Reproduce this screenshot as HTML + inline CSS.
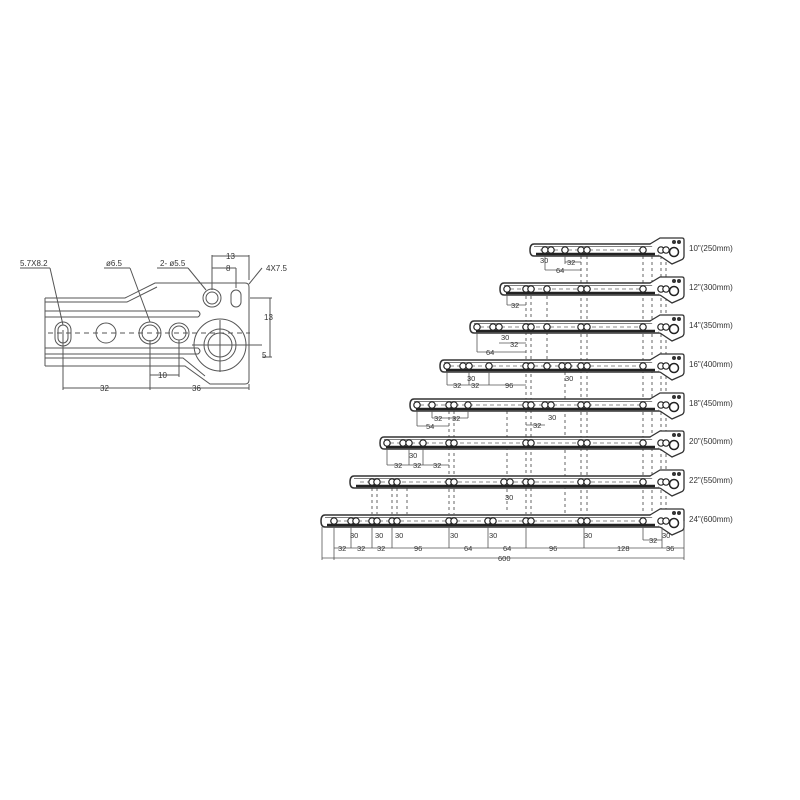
<!DOCTYPE html>
<html><head><meta charset="utf-8"><style>
html,body{margin:0;padding:0;background:#fff;}
svg{display:block;}
text{font-family:"Liberation Sans",sans-serif;fill:#333;}
.r circle{fill:#fff;stroke:#222;stroke-width:1.2;}
.rb{fill:#fff;stroke:#333;stroke-width:1.5;}
.bl{stroke:#222;stroke-width:2.5;}
.tl{stroke:#555;stroke-width:0.8;}
</style></head><body>
<svg width="800" height="800" viewBox="0 0 800 800" xmlns="http://www.w3.org/2000/svg">
<defs>
<g id="rend">
<path d="M650,-6 L660,-12 L682,-12 Q684,-12 684,-10 L684,6 Q684,9 681,10 L672,14 L660,6" fill="#fff" stroke="#333" stroke-width="1.3"/>
<circle cx="674" cy="2" r="4.5" fill="#fff" stroke="#222" stroke-width="1.5"/>
<circle cx="674" cy="-8" r="2" fill="#333"/><circle cx="679" cy="-8" r="2" fill="#333"/>
<circle cx="643" cy="0" r="3.2" fill="#fff" stroke="#222" stroke-width="1.2"/>
<circle cx="661" cy="0" r="3.2" fill="#fff" stroke="#222" stroke-width="1.2"/><circle cx="666" cy="0" r="3.2" fill="#fff" stroke="#222" stroke-width="1.2"/>
<circle cx="581" cy="0" r="3.2" fill="#fff" stroke="#222" stroke-width="1.2"/><circle cx="587" cy="0" r="3.2" fill="#fff" stroke="#222" stroke-width="1.2"/>
</g>
</defs>

<!-- LEFT DETAIL -->
<g stroke="#555" stroke-width="1" fill="none">
<path d="M45,298 L125,298 L155,283 L245,283 Q249,283 249,287 L249,380 Q249,384 245,384 L210,384 L185,366 L45,366"/>
<path d="M45,302 L127,302 L157,287"/>
<path d="M45,311 L198,311 Q202,314 198,317 L45,317"/>
<path d="M45,348 L198,348 Q202,351 198,354 L45,354"/>
<path d="M45,358 L183,358 L205,376"/>
<line x1="45" y1="298" x2="45" y2="366"/>
<line x1="48" y1="333" x2="250" y2="333" stroke-dasharray="5,4"/>
<rect x="55" y="322" width="16" height="24" rx="8"/>
<rect x="58" y="325" width="10" height="18" rx="5"/>
<circle cx="106" cy="333" r="10"/>
<circle cx="150" cy="333" r="11"/><circle cx="150" cy="333" r="8"/>
<circle cx="179" cy="333" r="10"/><circle cx="179" cy="333" r="7"/>
<circle cx="220" cy="345" r="26"/><circle cx="220" cy="345" r="16"/><circle cx="220" cy="345" r="12"/>
<circle cx="212" cy="298" r="9"/><circle cx="212" cy="298" r="6"/>
<rect x="231" y="290" width="10" height="17" rx="5"/>
<line x1="220" y1="320" x2="220" y2="372"/><line x1="192" y1="345" x2="262" y2="345"/>
<line x1="63" y1="330" x2="63" y2="390"/><line x1="150" y1="340" x2="150" y2="390"/>
<line x1="179" y1="340" x2="179" y2="377"/><line x1="249" y1="384" x2="249" y2="390"/>
<line x1="63" y1="388" x2="249" y2="388"/>
<line x1="150" y1="375" x2="179" y2="375"/>
<line x1="212" y1="255" x2="212" y2="290"/><line x1="249" y1="255" x2="249" y2="280"/>
<line x1="212" y1="256" x2="249" y2="256"/>
<line x1="236" y1="268" x2="236" y2="288"/><line x1="212" y1="268" x2="236" y2="268"/>
<line x1="250" y1="298" x2="272" y2="298"/><line x1="262" y1="357" x2="272" y2="357"/>
<line x1="270" y1="298" x2="270" y2="357"/>
<line x1="20" y1="268" x2="50" y2="268"/><line x1="50" y1="268" x2="63" y2="325"/>
<line x1="104" y1="268" x2="130" y2="268"/><line x1="130" y1="268" x2="150" y2="322"/>
<line x1="157" y1="268" x2="188" y2="268"/><line x1="188" y1="268" x2="206" y2="290"/>
<line x1="262" y1="268" x2="249" y2="284"/>
</g>
<g font-size="8">
<text x="20" y="266">5.7X8.2</text>
<text x="106" y="266">ø6.5</text>
<text x="160" y="266">2- ø5.5</text>
<text x="226" y="259">13</text>
<text x="226" y="271">8</text>
<text x="266" y="271">4X7.5</text>
<text x="264" y="320">13</text>
<text x="262" y="358">5</text>
<text x="158" y="378">10</text>
<text x="100" y="391">32</text>
<text x="192" y="391">36</text>
</g>

<!-- RAILS -->
<g stroke="#555" stroke-width="0.9" stroke-dasharray="3,3" fill="none">
<line x1="372" y1="482" x2="372" y2="514"/><line x1="377" y1="482" x2="377" y2="514"/>
<line x1="392" y1="482" x2="392" y2="514"/><line x1="397" y1="482" x2="397" y2="514"/><line x1="407" y1="482" x2="407" y2="514"/>
<line x1="449" y1="405" x2="449" y2="514"/><line x1="454" y1="405" x2="454" y2="514"/>
<line x1="507" y1="405" x2="507" y2="510"/>
<line x1="526" y1="290" x2="526" y2="514"/><line x1="531" y1="290" x2="531" y2="514"/>
<line x1="547" y1="290" x2="547" y2="370"/>
<line x1="565" y1="366" x2="565" y2="514"/>
<line x1="581" y1="250" x2="581" y2="514"/><line x1="587" y1="250" x2="587" y2="514"/>
<line x1="643" y1="250" x2="643" y2="514"/><line x1="652" y1="250" x2="652" y2="514"/>
<line x1="661" y1="250" x2="661" y2="514"/><line x1="666" y1="250" x2="666" y2="514"/>
</g>

<g class="r">
<g transform="translate(0,250)">
<path class="rb" d="M534,-6 L655,-6 L660,6 L534,6 Q530,6 530,0 Q530,-6 534,-6Z"/>
<line class="tl" x1="534" y1="-3.5" x2="655" y2="-3.5"/>
<line class="bl" x1="536" y1="4" x2="655" y2="4"/>
<line x1="540" y1="0" x2="640" y2="0" stroke="#666" stroke-dasharray="4,3" stroke-width="0.8"/>
<circle cx="545" cy="0" r="3.2"/><circle cx="551" cy="0" r="3.2"/><circle cx="565" cy="0" r="3.2"/>
<use href="#rend"/></g>
<g transform="translate(0,289)">
<path class="rb" d="M504,-6 L655,-6 L660,6 L504,6 Q500,6 500,0 Q500,-6 504,-6Z"/>
<line class="tl" x1="504" y1="-3.5" x2="655" y2="-3.5"/>
<line class="bl" x1="506" y1="4" x2="655" y2="4"/>
<line x1="510" y1="0" x2="640" y2="0" stroke="#666" stroke-dasharray="4,3" stroke-width="0.8"/>
<circle cx="507" cy="0" r="3.2"/><circle cx="526" cy="0" r="3.2"/><circle cx="531" cy="0" r="3.2"/><circle cx="547" cy="0" r="3.2"/>
<use href="#rend"/></g>
<g transform="translate(0,327)">
<path class="rb" d="M474,-6 L655,-6 L660,6 L474,6 Q470,6 470,0 Q470,-6 474,-6Z"/>
<line class="tl" x1="474" y1="-3.5" x2="655" y2="-3.5"/>
<line class="bl" x1="476" y1="4" x2="655" y2="4"/>
<line x1="480" y1="0" x2="640" y2="0" stroke="#666" stroke-dasharray="4,3" stroke-width="0.8"/>
<circle cx="477" cy="0" r="3.2"/><circle cx="493" cy="0" r="3.2"/><circle cx="499" cy="0" r="3.2"/><circle cx="526" cy="0" r="3.2"/><circle cx="531" cy="0" r="3.2"/><circle cx="547" cy="0" r="3.2"/>
<use href="#rend"/></g>
<g transform="translate(0,366)">
<path class="rb" d="M444,-6 L655,-6 L660,6 L444,6 Q440,6 440,0 Q440,-6 444,-6Z"/>
<line class="tl" x1="444" y1="-3.5" x2="655" y2="-3.5"/>
<line class="bl" x1="446" y1="4" x2="655" y2="4"/>
<line x1="450" y1="0" x2="640" y2="0" stroke="#666" stroke-dasharray="4,3" stroke-width="0.8"/>
<circle cx="447" cy="0" r="3.2"/><circle cx="463" cy="0" r="3.2"/><circle cx="469" cy="0" r="3.2"/><circle cx="489" cy="0" r="3.2"/><circle cx="526" cy="0" r="3.2"/><circle cx="531" cy="0" r="3.2"/><circle cx="547" cy="0" r="3.2"/><circle cx="562" cy="0" r="3.2"/><circle cx="568" cy="0" r="3.2"/>
<use href="#rend"/></g>
<g transform="translate(0,405)">
<path class="rb" d="M414,-6 L655,-6 L660,6 L414,6 Q410,6 410,0 Q410,-6 414,-6Z"/>
<line class="tl" x1="414" y1="-3.5" x2="655" y2="-3.5"/>
<line class="bl" x1="416" y1="4" x2="655" y2="4"/>
<line x1="420" y1="0" x2="640" y2="0" stroke="#666" stroke-dasharray="4,3" stroke-width="0.8"/>
<circle cx="417" cy="0" r="3.2"/><circle cx="432" cy="0" r="3.2"/><circle cx="449" cy="0" r="3.2"/><circle cx="454" cy="0" r="3.2"/><circle cx="468" cy="0" r="3.2"/><circle cx="526" cy="0" r="3.2"/><circle cx="531" cy="0" r="3.2"/><circle cx="545" cy="0" r="3.2"/><circle cx="551" cy="0" r="3.2"/>
<use href="#rend"/></g>
<g transform="translate(0,443)">
<path class="rb" d="M384,-6 L655,-6 L660,6 L384,6 Q380,6 380,0 Q380,-6 384,-6Z"/>
<line class="tl" x1="384" y1="-3.5" x2="655" y2="-3.5"/>
<line class="bl" x1="386" y1="4" x2="655" y2="4"/>
<line x1="390" y1="0" x2="640" y2="0" stroke="#666" stroke-dasharray="4,3" stroke-width="0.8"/>
<circle cx="387" cy="0" r="3.2"/><circle cx="403" cy="0" r="3.2"/><circle cx="409" cy="0" r="3.2"/><circle cx="423" cy="0" r="3.2"/><circle cx="449" cy="0" r="3.2"/><circle cx="454" cy="0" r="3.2"/><circle cx="526" cy="0" r="3.2"/><circle cx="531" cy="0" r="3.2"/>
<use href="#rend"/></g>
<g transform="translate(0,482)">
<path class="rb" d="M354,-6 L655,-6 L660,6 L354,6 Q350,6 350,0 Q350,-6 354,-6Z"/>
<line class="tl" x1="354" y1="-3.5" x2="655" y2="-3.5"/>
<line class="bl" x1="356" y1="4" x2="655" y2="4"/>
<line x1="360" y1="0" x2="640" y2="0" stroke="#666" stroke-dasharray="4,3" stroke-width="0.8"/>
<circle cx="372" cy="0" r="3.2"/><circle cx="377" cy="0" r="3.2"/><circle cx="392" cy="0" r="3.2"/><circle cx="397" cy="0" r="3.2"/><circle cx="449" cy="0" r="3.2"/><circle cx="454" cy="0" r="3.2"/><circle cx="504" cy="0" r="3.2"/><circle cx="510" cy="0" r="3.2"/><circle cx="526" cy="0" r="3.2"/><circle cx="531" cy="0" r="3.2"/>
<use href="#rend"/></g>
<g transform="translate(0,521)">
<path class="rb" d="M325,-6 L655,-6 L660,6 L325,6 Q321,6 321,0 Q321,-6 325,-6Z"/>
<line class="tl" x1="325" y1="-3.5" x2="655" y2="-3.5"/>
<line class="bl" x1="327" y1="4" x2="655" y2="4"/>
<line x1="330" y1="0" x2="640" y2="0" stroke="#666" stroke-dasharray="4,3" stroke-width="0.8"/>
<circle cx="334" cy="0" r="3.2"/><circle cx="351" cy="0" r="3.2"/><circle cx="356" cy="0" r="3.2"/><circle cx="372" cy="0" r="3.2"/><circle cx="377" cy="0" r="3.2"/><circle cx="392" cy="0" r="3.2"/><circle cx="397" cy="0" r="3.2"/><circle cx="449" cy="0" r="3.2"/><circle cx="454" cy="0" r="3.2"/><circle cx="488" cy="0" r="3.2"/><circle cx="493" cy="0" r="3.2"/><circle cx="526" cy="0" r="3.2"/><circle cx="531" cy="0" r="3.2"/>
<use href="#rend"/></g>
</g>

<!-- dimension lines -->
<g stroke="#555" stroke-width="0.8" fill="none">
<line x1="545" y1="256" x2="545" y2="270"/><line x1="565" y1="256" x2="565" y2="264"/><line x1="565" y1="262" x2="581" y2="262"/><line x1="545" y1="270" x2="581" y2="270"/>
<line x1="507" y1="295" x2="507" y2="305"/><line x1="507" y1="305" x2="526" y2="305"/>
<line x1="477" y1="333" x2="477" y2="352"/><line x1="477" y1="352" x2="526" y2="352"/><line x1="499" y1="343" x2="526" y2="343"/>
<line x1="447" y1="372" x2="447" y2="385"/><line x1="447" y1="385" x2="526" y2="385"/><line x1="469" y1="372" x2="469" y2="385"/><line x1="489" y1="372" x2="489" y2="385"/>
<line x1="417" y1="411" x2="417" y2="426"/><line x1="417" y1="426" x2="449" y2="426"/><line x1="432" y1="411" x2="432" y2="418"/><line x1="432" y1="418" x2="468" y2="418"/><line x1="468" y1="411" x2="468" y2="418"/>
<line x1="526" y1="425" x2="545" y2="425"/>
<line x1="387" y1="449" x2="387" y2="465"/><line x1="387" y1="465" x2="449" y2="465"/><line x1="409" y1="449" x2="409" y2="465"/><line x1="423" y1="449" x2="423" y2="465"/>
<line x1="334" y1="527" x2="334" y2="560"/><line x1="684" y1="521" x2="684" y2="560"/>
<line x1="322" y1="527" x2="322" y2="560"/>
<line x1="322" y1="558" x2="684" y2="558"/>
<line x1="334" y1="548" x2="684" y2="548"/>
<line x1="351" y1="527" x2="351" y2="548"/><line x1="372" y1="527" x2="372" y2="548"/><line x1="392" y1="527" x2="392" y2="548"/><line x1="449" y1="527" x2="449" y2="548"/><line x1="488" y1="527" x2="488" y2="548"/><line x1="526" y1="527" x2="526" y2="548"/><line x1="584" y1="527" x2="584" y2="548"/><line x1="662" y1="527" x2="662" y2="548"/>
<line x1="643" y1="527" x2="643" y2="540"/><line x1="643" y1="540" x2="662" y2="540"/>
</g>
<g font-size="7.5">
<text x="540" y="263">30</text><text x="567" y="265">32</text><text x="556" y="273">64</text>
<text x="511" y="308">32</text>
<text x="501" y="340">30</text><text x="510" y="347">32</text><text x="486" y="355">64</text>
<text x="467" y="381">30</text><text x="565" y="381">30</text><text x="453" y="388">32</text><text x="471" y="388">32</text><text x="505" y="388">96</text>
<text x="434" y="421">32</text><text x="452" y="421">32</text><text x="426" y="429">54</text><text x="548" y="420">30</text><text x="533" y="428">32</text>
<text x="409" y="458">30</text><text x="394" y="468">32</text><text x="413" y="468">32</text><text x="433" y="468">32</text>
<text x="505" y="500">30</text>
<text x="350" y="538">30</text><text x="375" y="538">30</text><text x="395" y="538">30</text><text x="450" y="538">30</text><text x="489" y="538">30</text><text x="584" y="538">30</text><text x="662" y="538">30</text>
<text x="649" y="543">32</text>
<text x="338" y="551">32</text><text x="357" y="551">32</text><text x="377" y="551">32</text><text x="414" y="551">96</text><text x="464" y="551">64</text><text x="503" y="551">64</text><text x="549" y="551">96</text><text x="617" y="551">128</text><text x="666" y="551">36</text>
<text x="498" y="561">600</text>
</g>
<g font-size="8">
<text x="689" y="251">10"(250mm)</text>
<text x="689" y="290">12"(300mm)</text>
<text x="689" y="328">14"(350mm)</text>
<text x="689" y="367">16"(400mm)</text>
<text x="689" y="406">18"(450mm)</text>
<text x="689" y="444">20"(500mm)</text>
<text x="689" y="483">22"(550mm)</text>
<text x="689" y="522">24"(600mm)</text>
</g>
</svg>
</body></html>
